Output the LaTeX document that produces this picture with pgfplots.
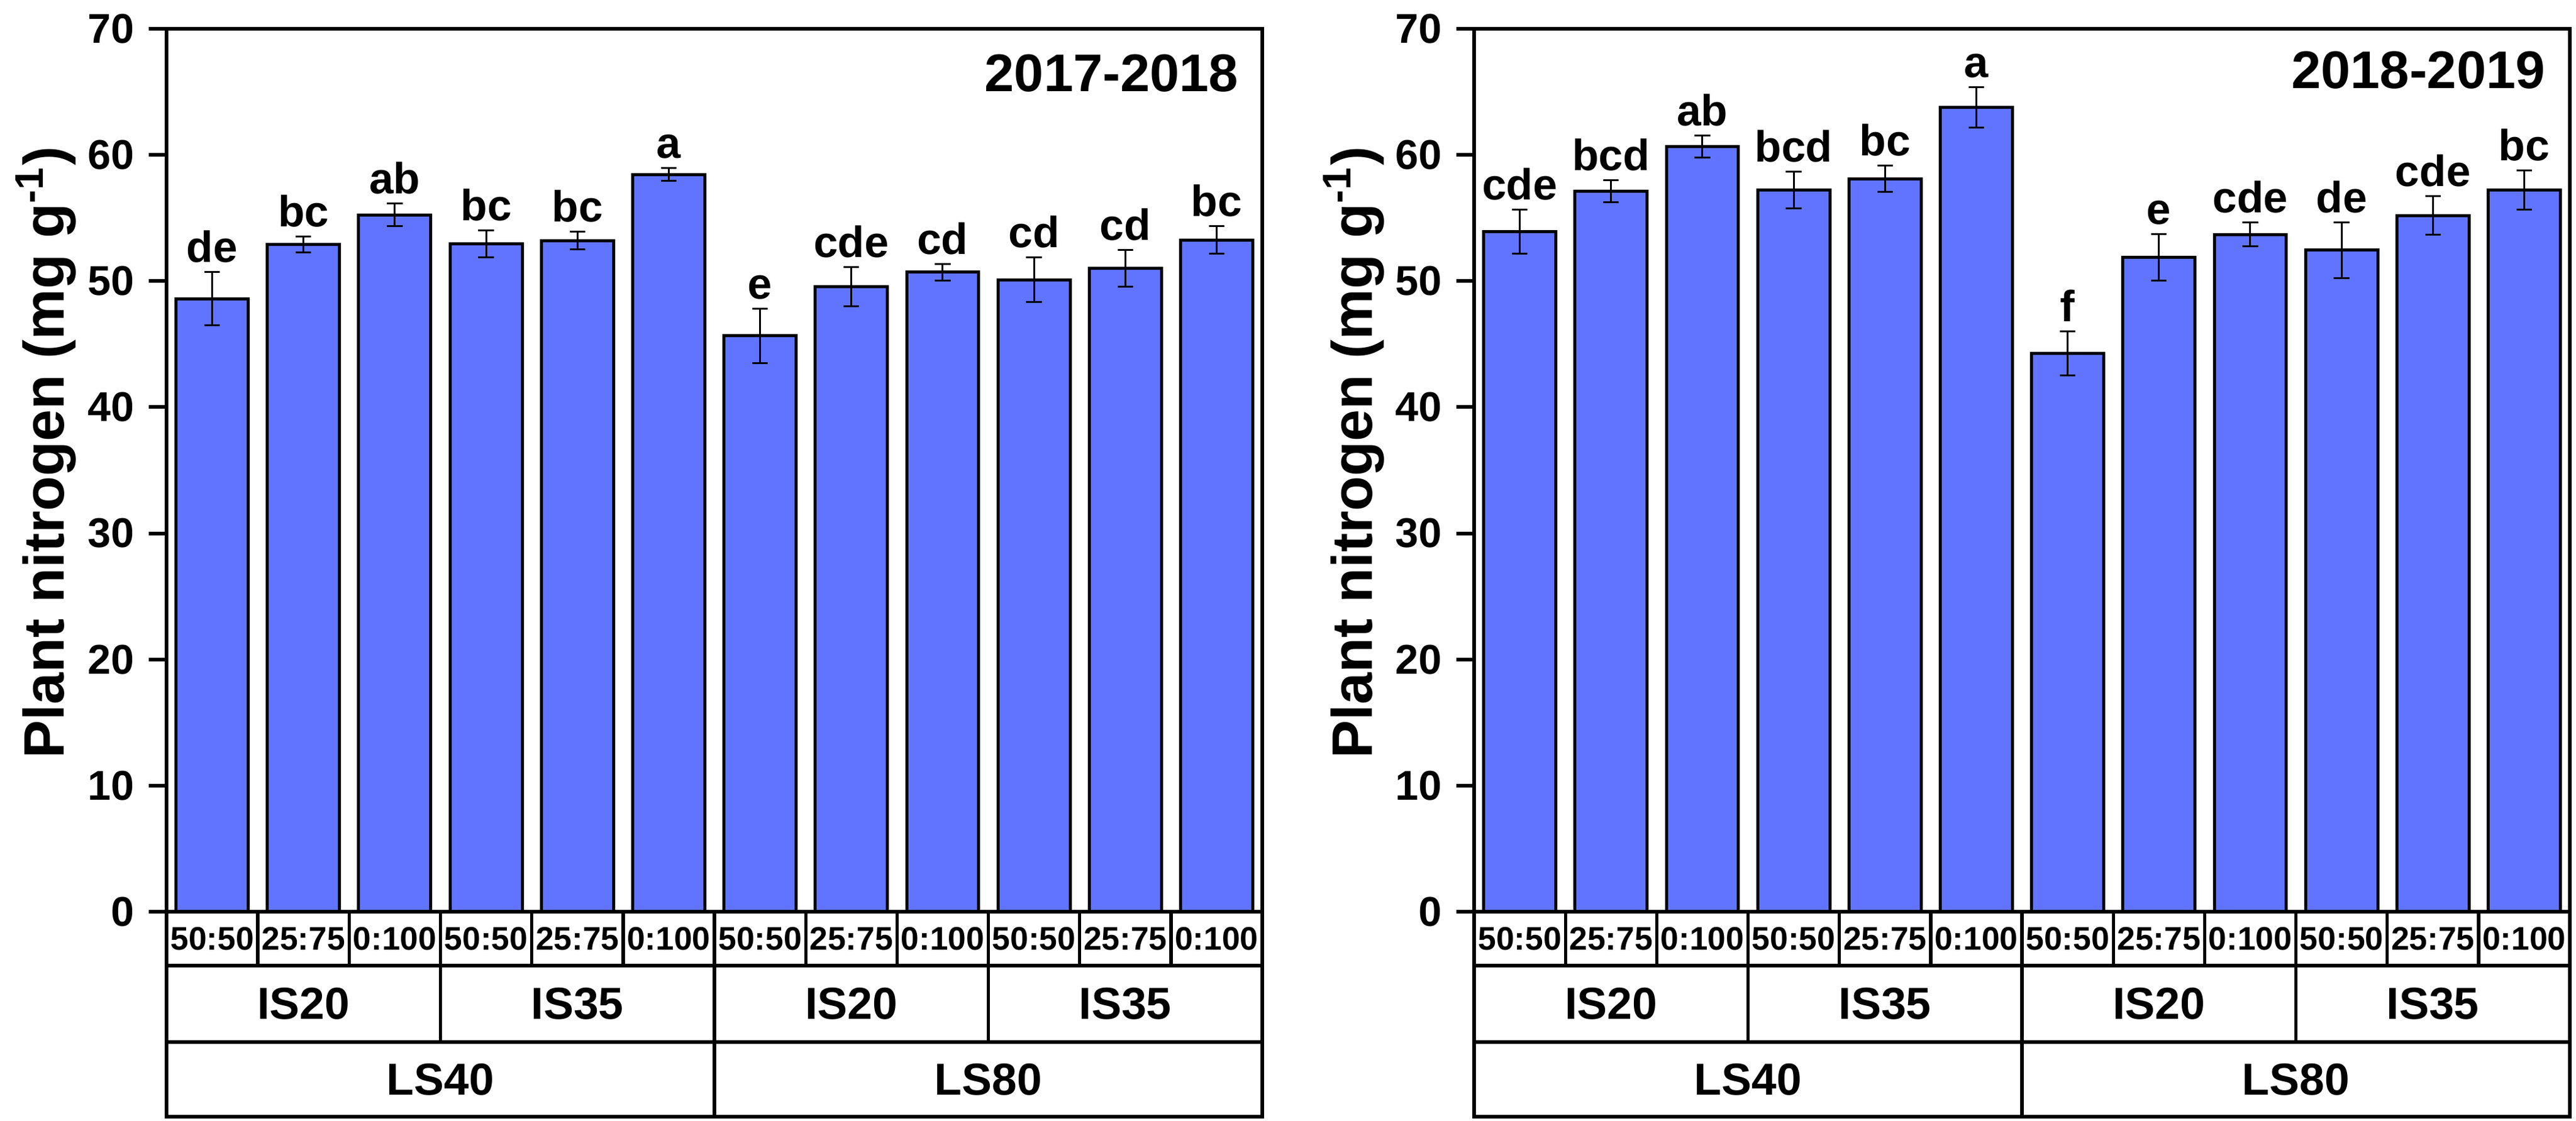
\documentclass[border=0pt]{standalone}
\usepackage{fontspec}
\setmainfont{Liberation Sans}
\usepackage{pgfplots}
\pgfplotsset{compat=1.18}
\usepackage{pgfplotstable}
\definecolor{barblue}{RGB}{97,116,255}

\newcommand{\ftick}{\fontsize{10.2}{12}\selectfont\bfseries}
\newcommand{\flab}{\fontsize{14}{16}\selectfont\bfseries}
\newcommand{\flet}{\fontsize{10.7}{12}\selectfont\bfseries}
\newcommand{\ftit}{\fontsize{13}{15}\selectfont\bfseries}
\newcommand{\fx}{\fontsize{8}{9}\selectfont\bfseries}
\newcommand{\fg}{\fontsize{11}{13}\selectfont\bfseries}

\pgfplotstableread{
x y e l
0 48.6 2.1 de
1 52.9 0.65 bc
2 55.25 0.9 ab
3 52.95 1.08 bc
4 53.2 0.7 bc
5 58.45 0.5 a
6 45.65 2.15 e
7 49.55 1.57 cde
8 50.7 0.67 cd
9 50.1 1.77 cd
10 51.0 1.47 cd
11 53.25 1.1 bc
}\dataA

\pgfplotstableread{
x y e l
0 53.9 1.75 cde
1 57.1 0.87 bcd
2 60.65 0.87 ab
3 57.2 1.45 bcd
4 58.1 1.04 bc
5 63.75 1.6 a
6 44.25 1.75 f
7 51.9 1.84 e
8 53.7 0.96 cde
9 52.45 2.2 de
10 55.2 1.53 cde
11 57.2 1.55 bc
}\dataB

\pgfplotsset{
  myax/.style={
    width=268.5pt, height=216.45pt, scale only axis,
    anchor=south west,
    xmin=-0.5, xmax=11.5, ymin=0, ymax=70,
    ytick={0,10,...,70}, xtick=\empty,
    ytick pos=left,
    tick align=outside,
    major tick length=4.35pt,
    axis line style={line width=0.9pt, black},
    every tick/.style={line width=0.9pt, black},
    yticklabel style={font=\ftick},
    /pgf/number format/assume math mode=true,
    clip=false,
  },
}

\newcommand{\bars}[1]{%
  \addplot[ybar, bar width=0.79, bar shift=0pt, fill=barblue, draw=black, line width=0.75pt,
    error bars/.cd, y dir=both, y explicit,
    error bar style={line width=0.45pt, black},
    error mark options={rotate=90, line width=0.45pt, mark size=1.9pt, black}]
    table[x=x, y=y, y error=e] {#1};
  \addplot[draw=none, mark=none, nodes near coords, point meta=explicit symbolic,
    nodes near coords style={font=\flet, anchor=base, yshift=2.4pt, text=black}]
    table[x=x, y expr=\thisrow{y}+\thisrow{e}, meta=l] {#1};
}

\newcommand{\tablebelow}{%
  \draw[line width=0.8pt, line cap=rect] (axis cs:-0.5,-4.27) -- (axis cs:11.5,-4.27);
  \draw[line width=0.8pt, line cap=rect] (axis cs:-0.5,-10.33) -- (axis cs:11.5,-10.33);
  \draw[line width=0.8pt, line cap=rect] (axis cs:-0.5,-16.25) -- (axis cs:11.5,-16.25);
  \draw[line width=0.9pt] (axis cs:-0.5,0) -- (axis cs:-0.5,-16.25);
  \draw[line width=0.9pt] (axis cs:11.5,0) -- (axis cs:11.5,-16.25);
  \draw[line width=0.8pt] (axis cs:0.5,0) -- (axis cs:0.5,-4.27);
  \draw[line width=0.8pt] (axis cs:1.5,0) -- (axis cs:1.5,-4.27);
  \draw[line width=0.8pt] (axis cs:2.5,0) -- (axis cs:2.5,-10.33);
  \draw[line width=0.8pt] (axis cs:3.5,0) -- (axis cs:3.5,-4.27);
  \draw[line width=0.8pt] (axis cs:4.5,0) -- (axis cs:4.5,-4.27);
  \draw[line width=0.8pt] (axis cs:5.5,0) -- (axis cs:5.5,-16.25);
  \draw[line width=0.8pt] (axis cs:6.5,0) -- (axis cs:6.5,-4.27);
  \draw[line width=0.8pt] (axis cs:7.5,0) -- (axis cs:7.5,-4.27);
  \draw[line width=0.8pt] (axis cs:8.5,0) -- (axis cs:8.5,-10.33);
  \draw[line width=0.8pt] (axis cs:9.5,0) -- (axis cs:9.5,-4.27);
  \draw[line width=0.8pt] (axis cs:10.5,0) -- (axis cs:10.5,-4.27);
  \node[font=\fx] at (axis cs:0,-2.13) {50:50};
  \node[font=\fx] at (axis cs:1,-2.13) {25:75};
  \node[font=\fx] at (axis cs:2,-2.13) {0:100};
  \node[font=\fx] at (axis cs:3,-2.13) {50:50};
  \node[font=\fx] at (axis cs:4,-2.13) {25:75};
  \node[font=\fx] at (axis cs:5,-2.13) {0:100};
  \node[font=\fx] at (axis cs:6,-2.13) {50:50};
  \node[font=\fx] at (axis cs:7,-2.13) {25:75};
  \node[font=\fx] at (axis cs:8,-2.13) {0:100};
  \node[font=\fx] at (axis cs:9,-2.13) {50:50};
  \node[font=\fx] at (axis cs:10,-2.13) {25:75};
  \node[font=\fx] at (axis cs:11,-2.13) {0:100};
  \node[font=\fg] at (axis cs:1,-7.3) {IS20};
  \node[font=\fg] at (axis cs:4,-7.3) {IS35};
  \node[font=\fg] at (axis cs:7,-7.3) {IS20};
  \node[font=\fg] at (axis cs:10,-7.3) {IS35};
  \node[font=\fg] at (axis cs:2.5,-13.3) {LS40};
  \node[font=\fg] at (axis cs:8.5,-13.3) {LS80};
  \node[font=\flab, rotate=90, anchor=base] at ([xshift=-25.05pt]rel axis cs:0,0.52) {Plant nitrogen (mg g\textsuperscript{-1})};
}

\begin{document}
\begin{tikzpicture}
\useasboundingbox (0,0) rectangle (631.2pt,274.8pt);
\begin{axis}[myax, at={(40.8pt,51.3pt)}]
  \bars{\dataA}
  \tablebelow
  \node[font=\ftit, anchor=base east] at ([xshift=-2.3pt,yshift=-15.3pt]rel axis cs:1,1) {2017-2018};
\end{axis}
\begin{axis}[myax, at={(361.2pt,51.3pt)}]
  \bars{\dataB}
  \tablebelow
  \node[font=\ftit, anchor=base east] at ([xshift=-2.5pt,yshift=-14.6pt]rel axis cs:1,1) {2018-2019};
\end{axis}
\end{tikzpicture}
\end{document}
